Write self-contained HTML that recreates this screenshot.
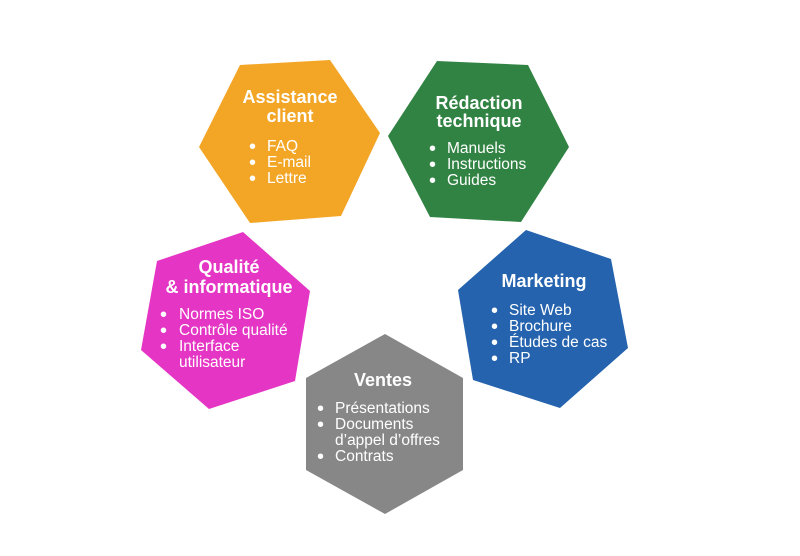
<!DOCTYPE html>
<html><head><meta charset="utf-8"><style>
html,body{margin:0;padding:0;background:#fff;}
svg{display:block}
.t{font-family:"Liberation Sans",sans-serif;font-weight:bold;font-size:18px;fill:#fff;text-anchor:middle}
.i{font-family:"Liberation Sans",sans-serif;font-size:15.5px;fill:#fff}
.b{font-family:"Liberation Sans",sans-serif;font-size:20px;fill:#fff}
</style></head><body>
<svg width="800" height="556" viewBox="0 0 800 556" xmlns="http://www.w3.org/2000/svg">
<polygon points="240,65 330,60 380,133 341,216 250,223 199,147" fill="#F3A626"/>
<polygon points="437,61 528,65 569,147 521,222 430,217 388,136" fill="#318343"/>
<polygon points="243,232 310,291 295,381 209,409 141,350 157,261" fill="#E535C4"/>
<polygon points="526,230 611,259 628,348 560,408 473,380 458,290" fill="#2563AE"/>
<polygon points="385,334 463,378 463,470 385,514 306,470 306,378" fill="#878787"/>

<text class="t" x="290" y="103">Assistance</text>
<text class="t" x="290" y="122">client</text>
<g class="i"><text x="267" y="151">FAQ</text><text x="267" y="167">E-mail</text><text x="267" y="183">Lettre</text></g>
<g class="b"><text x="249" y="153">•</text><text x="249" y="169">•</text><text x="249" y="185">•</text></g>

<text class="t" x="479" y="109">Rédaction</text>
<text class="t" x="479" y="127">technique</text>
<g class="i"><text x="447" y="153">Manuels</text><text x="447" y="169">Instructions</text><text x="447" y="185">Guides</text></g>
<g class="b"><text x="429" y="155">•</text><text x="429" y="171">•</text><text x="429" y="187">•</text></g>

<text class="t" x="229" y="273">Qualité</text>
<text class="t" x="229" y="293">&amp; informatique</text>
<g class="i"><text x="179" y="319">Normes ISO</text><text x="179" y="335">Contrôle qualité</text><text x="179" y="351">Interface</text><text x="179" y="367">utilisateur</text></g>
<g class="b"><text x="160" y="321">•</text><text x="160" y="337">•</text><text x="160" y="353">•</text></g>

<text class="t" x="544" y="287">Marketing</text>
<g class="i"><text x="509" y="315">Site Web</text><text x="509" y="331">Brochure</text><text x="509" y="347">Études de cas</text><text x="509" y="363">RP</text></g>
<g class="b"><text x="491" y="317">•</text><text x="491" y="333">•</text><text x="491" y="349">•</text><text x="491" y="365">•</text></g>

<text class="t" x="383" y="386">Ventes</text>
<g class="i"><text x="335" y="413">Présentations</text><text x="335" y="429">Documents</text><text x="335" y="445">d’appel d’offres</text><text x="335" y="461">Contrats</text></g>
<g class="b"><text x="317" y="415">•</text><text x="317" y="431">•</text><text x="317" y="463">•</text></g>
</svg>
</body></html>
